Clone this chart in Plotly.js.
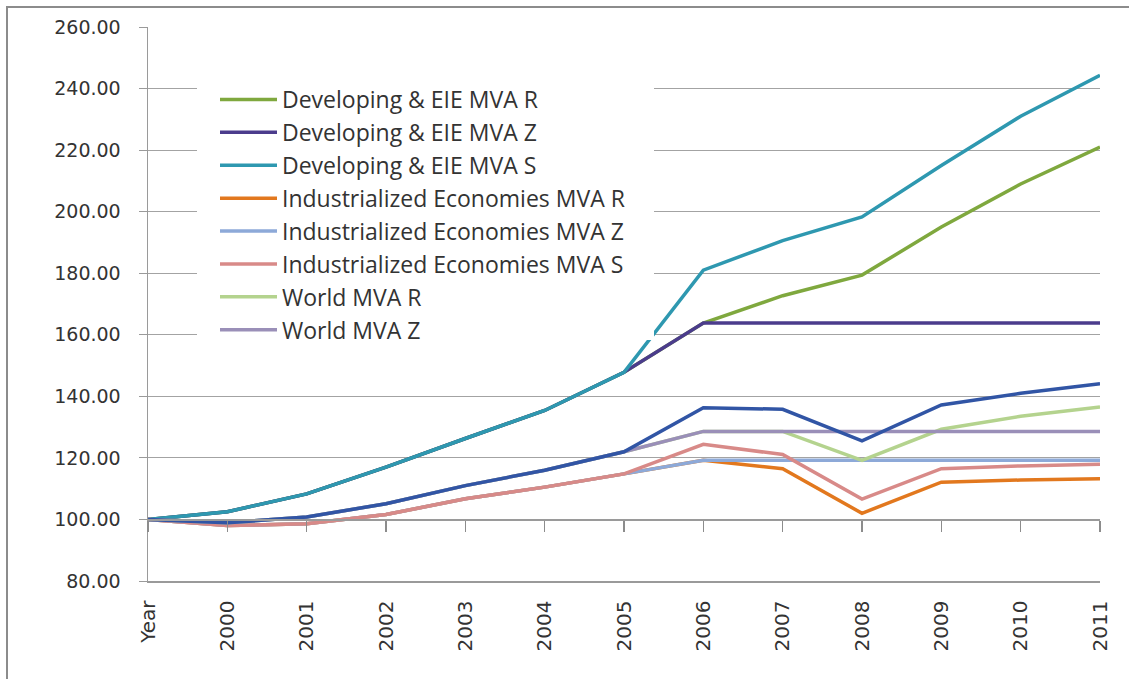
<!DOCTYPE html>
<html>
<head>
<meta charset="utf-8">
<script src="https://cdn.plot.ly/plotly-3.0.1.min.js"></script>
<style>
  html, body { margin: 0; padding: 0; background: #ffffff; }
  #chart { width: 1129px; height: 679px; }
</style>
</head>
<body>
<div id="chart"></div>
<script>
// ---- data ----
var categories = ["Year", "2000", "2001", "2002", "2003", "2004", "2005", "2006", "2007", "2008", "2009", "2010", "2011"];

var devR   = [100, 102.5, 108.3, 117.0, 126.3, 135.4, 147.8, 163.8, 172.7, 179.4, 195.0, 209.0, 221.0];
var devZ   = [100, 102.5, 108.3, 117.0, 126.3, 135.4, 147.8, 163.8, 163.8, 163.8, 163.8, 163.8, 163.8];
var devS   = [100, 102.5, 108.3, 117.0, 126.3, 135.4, 147.8, 181.0, 190.6, 198.3, 215.0, 231.0, 244.3];
var indR   = [100, 98.0, 98.6, 101.6, 106.7, 110.5, 114.8, 119.2, 116.5, 102.0, 112.1, 112.8, 113.2];
var indZ   = [100, 98.0, 98.6, 101.6, 106.7, 110.5, 114.8, 119.2, 119.2, 119.2, 119.2, 119.2, 119.2];
var indS   = [100, 98.0, 98.6, 101.6, 106.7, 110.5, 114.8, 124.4, 121.1, 106.6, 116.5, 117.4, 117.9];
var worldR = [100, 98.9, 100.8, 105.1, 111.0, 116.0, 122.0, 128.6, 128.6, 119.2, 129.3, 133.5, 136.5];
var worldZ = [100, 98.9, 100.8, 105.1, 111.0, 116.0, 122.0, 128.6, 128.6, 128.6, 128.6, 128.6, 128.6];
var worldS = [100, 98.9, 100.8, 105.1, 111.0, 116.0, 122.0, 136.3, 135.8, 125.5, 137.2, 141.0, 144.1];

var seriesNames = [
  "Developing & EIE MVA R", "Developing & EIE MVA Z", "Developing & EIE MVA S",
  "Industrialized Economies MVA R", "Industrialized Economies MVA Z", "Industrialized Economies MVA S",
  "World MVA R", "World MVA Z", "World MVA S"
];
var seriesValues = [devR, devZ, devS, indR, indZ, indS, worldR, worldZ, worldS];
var seriesColors = ["#7FA83E", "#4B3C8C", "#2E98B0", "#E2781E", "#8DA9D8", "#D88A88", "#B4D38E", "#9A8FB8", "#3155A5"];
var yTickValues = [80, 100, 120, 140, 160, 180, 200, 220, 240, 260];

var traces = seriesValues.map(function (vals, i) {
  var last = (i === seriesValues.length - 1);
  return {
    type: "scatter",
    mode: "lines",
    x: categories,
    y: vals,
    xaxis: last ? "x2" : "x",
    name: seriesNames[i],
    legendgroup: "g" + i,
    showlegend: i < 8,
    line: { color: seriesColors[i], width: 3.5 },
    hoverinfo: "x+y+name"
  };
});

// plot area geometry (pixels) used for the paper-space decorations
var L = 148, R = 1100, T = 27, B = 581;
function px(xp) { return (xp - L) / (R - L); }
function py(yp) { return (B - yp) / (B - T); }

var layout = {
  width: 1129,
  height: 679,
  margin: { l: L, r: 1129 - R, t: T, b: 679 - B, pad: 0 },
  paper_bgcolor: "#ffffff",
  plot_bgcolor: "#ffffff",
  showlegend: true,
  legend: {
    x: px(215), xanchor: "left",
    y: py(78), yanchor: "top",
    bgcolor: "rgba(0,0,0,0)",
    borderwidth: 0,
    tracegroupgap: 0,
    itemwidth: 57,
    font: { family: "Open Sans, sans-serif", size: 23, color: "#333333" }
  },
  xaxis: {
    type: "category",
    range: [0, categories.length - 1],
    tickangle: -90,
    ticks: "",
    showgrid: false,
    showline: true,
    linecolor: "#9a9a9a",
    linewidth: 1.5,
    zeroline: false,
    tickfont: { family: "DejaVu Sans, sans-serif", size: 20, color: "#333333" },
    ticklabelstandoff: 10,
    fixedrange: true
  },
  xaxis2: {
    type: "category",
    overlaying: "x",
    anchor: "free",
    position: (100 - 80) / (260 - 80),
    range: [0, categories.length - 1],
    ticks: "outside",
    ticklen: 11,
    tickwidth: 1.5,
    tickcolor: "#8c8c8c",
    showticklabels: false,
    showgrid: false,
    showline: true,
    linecolor: "#9a9a9a",
    linewidth: 1.5,
    zeroline: false,
    fixedrange: true
  },
  yaxis: {
    range: [80, 260],
    tickvals: yTickValues,
    tickformat: ".2f",
    ticks: "outside",
    ticklen: 8,
    tickcolor: "#9a9a9a",
    showline: true,
    linecolor: "#9a9a9a",
    linewidth: 1.5,
    showgrid: true,
    gridcolor: "#a3a3a3",
    gridwidth: 1,
    zeroline: false,
    tickfont: { family: "DejaVu Sans, sans-serif", size: 19, color: "#333333" },
    ticklabelstandoff: 14,
    fixedrange: true
  },
  shapes: [
    {
      type: "rect", xref: "paper", yref: "paper", layer: "above",
      x0: px(197), x1: px(654), y0: py(340), y1: py(70),
      fillcolor: "#ffffff", line: { width: 0 }
    },
    {
      type: "rect", xref: "paper", yref: "paper", layer: "above",
      x0: px(7), x1: px(1140), y0: py(700), y1: py(7),
      fillcolor: "rgba(0,0,0,0)", line: { color: "#8c8c8c", width: 2 }
    }
  ]
};

Plotly.newPlot("chart", traces, layout, { displayModeBar: false, staticPlot: true });
</script>
</body>
</html>
